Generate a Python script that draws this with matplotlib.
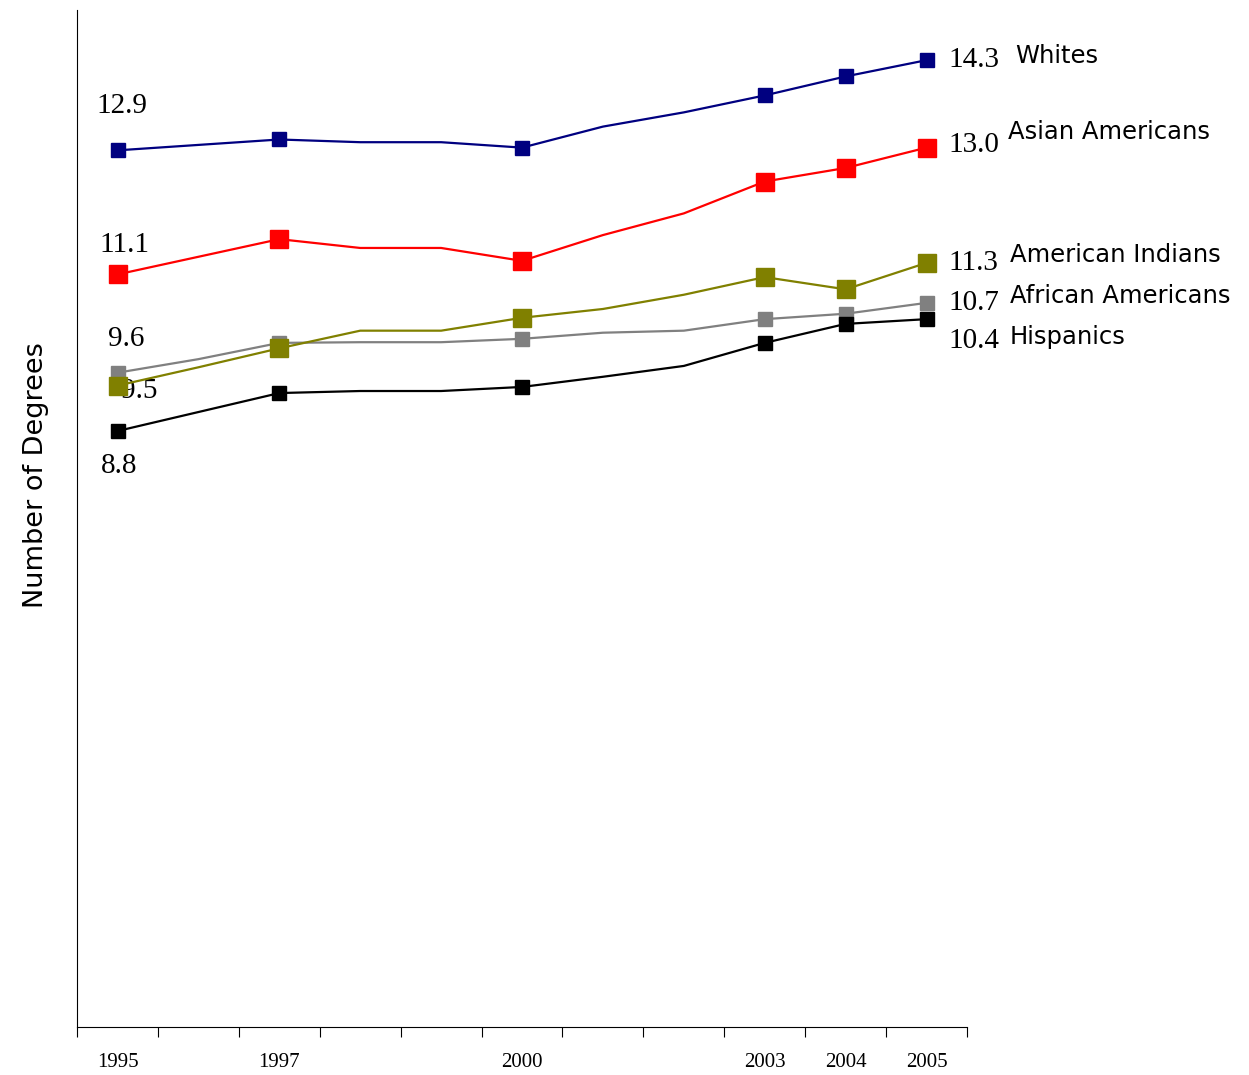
import numpy as np
from matplotlib import pyplot as plt

years = [1995, 1996, 1997, 1998, 1999, 2000, 2001, 2002, 2003, 2004, 2005]
shown_years = ["1995", "1997", "2000", "2003", "2004", "2005"]
shown_idx = [0, 2, 5, 8, 9, 10]

whites = [12.93, 13.01, 13.09, 13.05, 13.05, 12.97, 13.28, 13.49, 13.74, 14.02, 14.26]
asian = [11.10, 11.36, 11.62, 11.49, 11.49, 11.30, 11.68, 12.00, 12.47, 12.67, 12.97]
am_indians = [9.46, 9.73, 10.01, 10.27, 10.27, 10.46, 10.59, 10.80, 11.06, 10.88, 11.27]
african = [9.65, 9.85, 10.09, 10.10, 10.10, 10.15, 10.24, 10.27, 10.44, 10.52, 10.68]
hispanics = [8.79, 9.07, 9.35, 9.38, 9.38, 9.44, 9.59, 9.75, 10.09, 10.37, 10.44]

start_labels = ["12.9", "11.1", "9.5", "9.6", "8.8"]
end_labels = ["14.3", "13.0", "11.3", "10.7", "10.4"]
names = ["Whites", "Asian Americans", "American Indians", "African Americans", "Hispanics"]

series = [whites, asian, am_indians, african, hispanics]
colors = ["#000080", "#ff0000", "#808000", "#808080", "#000000"]
msizes = [10, 13, 13, 10, 10]
zorders = [3, 3, 4, 3, 3]
# label offsets in points (start label, end number, series name)
start_off = [(3, 32), (5, 21), (16, -4), (6, 24), (1, -25)]
end_off = [(16, 0), (16, 2), (16, 0), (16, 0), (16, -16)]
name_off = [(64, 3), (59, 11), (60, 6), (60, 5), (60, -13)]

fig = plt.figure(figsize=(12.49, 10.75), dpi=100)
ax = fig.add_axes([0.0617, 0.0447, 0.7125, 0.946])
x = np.arange(len(years))

for i, vals in enumerate(series):
    ax.plot(x, vals, color=colors[i], lw=1.6, marker="s", ms=msizes[i],
            markevery=shown_idx, zorder=zorders[i], clip_on=False)
    ax.annotate(start_labels[i], (x[0], vals[0]), xytext=start_off[i],
                textcoords="offset points", ha="center", va="center",
                fontsize=21, family="Liberation Serif")
    ax.annotate(end_labels[i], (x[-1], vals[-1]), xytext=end_off[i],
                textcoords="offset points", ha="left", va="center",
                fontsize=21, family="Liberation Serif")
    ax.annotate(names[i], (x[-1], vals[-1]), xytext=name_off[i],
                textcoords="offset points", ha="left", va="center",
                fontsize=17.5, family="DejaVu Sans")

ax.set_xlim(-0.5, len(years) - 0.5)
ax.set_ylim(0, 15)
ax.set_xticks(np.arange(-0.5, len(years), 1))
ax.set_xticklabels([])
ax.tick_params(axis="x", which="major", length=7, direction="out")
ax.set_xticks(shown_idx, minor=True)
ax.set_xticklabels(shown_years, minor=True, fontsize=15, family="Liberation Serif")
ax.tick_params(axis="x", which="minor", length=0, pad=19)
ax.set_yticks([])
ax.spines["top"].set_visible(False)
ax.spines["right"].set_visible(False)
ax.set_ylabel("Number of Degrees", fontsize=19.5)
ax.yaxis.set_label_coords(-0.032, 0.543)

fig.savefig("out.png", dpi=100)
